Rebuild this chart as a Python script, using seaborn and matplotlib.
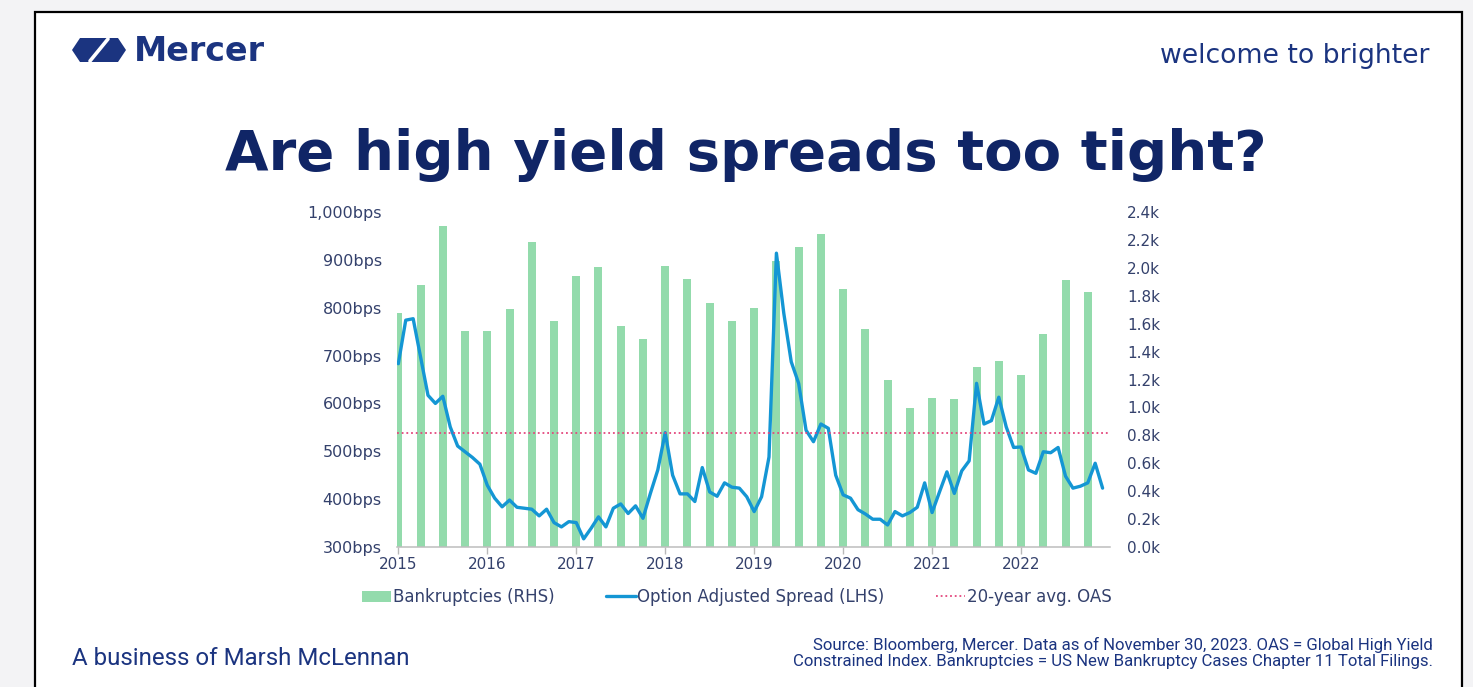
import numpy as np
import pandas as pd
import matplotlib
matplotlib.use("Agg")
import matplotlib.pyplot as plt
from matplotlib.patches import Rectangle, Polygon, Patch
from matplotlib.lines import Line2D
from matplotlib.ticker import FixedLocator, FuncFormatter
import seaborn as sns

# ---- data ----------------------------------------------------------------
years = [2015, 2016, 2017, 2018, 2019, 2020, 2021, 2022]

# Option adjusted spread (bps), monthly Jan 2015 - Dec 2022
oas_2015 = [683, 774, 777, 697, 617, 600, 615, 551, 511, 499, 487, 473]
oas_2016 = [429, 402, 384, 398, 383, 381, 379, 365, 379, 351, 342, 353]
oas_2017 = [351, 317, 339, 363, 342, 381, 390, 370, 386, 360, 412, 461]
oas_2018 = [539, 450, 411, 411, 395, 466, 415, 406, 434, 425, 423, 405]
oas_2019 = [374, 405, 488, 914, 788, 687, 642, 544, 520, 557, 548, 450]
oas_2020 = [409, 402, 378, 369, 358, 358, 346, 374, 365, 372, 383, 434]
oas_2021 = [372, 415, 457, 412, 459, 480, 642, 557, 564, 613, 551, 508]
oas_2022 = [509, 461, 454, 499, 497, 508, 448, 423, 427, 434, 475, 423]

# Chapter 11 bankruptcy filings, quarterly
bankruptcies = [1680, 1880, 2300, 1550, 1545, 1705, 2185, 1620,
                1940, 2005, 1580, 1490, 2010, 1920, 1750, 1620,
                1710, 2050, 2150, 2245, 1845, 1565, 1195, 995,
                1065, 1060, 1290, 1335, 1230, 1525, 1910, 1825]

avg_oas = 538  # 20-year average OAS (bps)

left_ticks = [300, 400, 500, 600, 700, 800, 900, 1000]
right_ticks = [0, 200, 400, 600, 800, 1000, 1200, 1400, 1600, 1800, 2000, 2200, 2400]

oas = oas_2015 + oas_2016 + oas_2017 + oas_2018 + oas_2019 + oas_2020 + oas_2021 + oas_2022
month_x = [y + m / 12 for y in years for m in range(12)]
quarter_x = [y + q / 4 for y in years for q in range(4)]

df_oas = pd.DataFrame({"t": month_x, "oas": oas})
df_bk = pd.DataFrame({"t": quarter_x, "bk": bankruptcies})

# ---- style ---------------------------------------------------------------
sns.set_theme(style="white")
plt.rcParams["font.family"] = ["DejaVu Sans"]

TICK = "#34416c"
GREEN = "#93dbac"
BLUE = "#1496d4"
PINK = "#e4477d"
BRAND = "#1b3480"
NARROW = ["Liberation Sans Narrow", "Roboto", "DejaVu Sans"]

W, H = 1473, 687
fig = plt.figure(figsize=(W / 100, H / 100), dpi=100)
fig.patch.set_facecolor("#f3f3f5")


def fx(x):
    return x / W


def fy(y):
    return 1 - y / H


# white slide with black frame
fig.add_artist(Rectangle((fx(35), fy(740)), fx(1462) - fx(35), fy(12) - fy(740),
                         transform=fig.transFigure, facecolor="white",
                         edgecolor="black", linewidth=1.6, zorder=0))

# ---- chart ---------------------------------------------------------------
ax = fig.add_axes([fx(397), fy(547), fx(1110) - fx(397), fy(212) - fy(547)])
ax2 = ax.twinx()

sns.barplot(data=df_bk, x="t", y="bk", ax=ax2, native_scale=True,
            color=GREEN, width=0.36, saturation=1, linewidth=0)
sns.lineplot(data=df_oas, x="t", y="oas", ax=ax, color=BLUE, linewidth=2.4)
ax.axhline(avg_oas, color=PINK, linestyle=(0, (1, 1.6)), linewidth=1.3)

ax.set_zorder(ax2.get_zorder() + 1)
ax.patch.set_visible(False)

ax.set_xlim(2014.985, 2023.0)
ax.set_ylim(300, 1000)
ax2.set_ylim(0, 2400)

ax.set_xlabel("")
ax.set_ylabel("")
ax2.set_xlabel("")
ax2.set_ylabel("")

ax.xaxis.set_major_locator(FixedLocator(years))
ax.xaxis.set_major_formatter(FuncFormatter(lambda v, p: f"{int(round(v))}"))
ax.yaxis.set_major_locator(FixedLocator(left_ticks))
ax.yaxis.set_major_formatter(FuncFormatter(lambda v, p: f"{int(v):,}bps"))
ax2.yaxis.set_major_locator(FixedLocator(right_ticks))
ax2.yaxis.set_major_formatter(FuncFormatter(lambda v, p: f"{v / 1000:.1f}k"))

ax.tick_params(axis="y", length=0, pad=11, labelsize=11.5, labelcolor=TICK)
ax2.tick_params(axis="y", length=0, pad=12.5, labelsize=11, labelcolor=TICK)
ax.tick_params(axis="x", length=5, width=1, color="#b9b9b9", pad=2,
               labelsize=11, labelcolor=TICK, bottom=True)
ax2.tick_params(axis="x", length=0)

for a in (ax, ax2):
    for s in ("top", "left", "right"):
        a.spines[s].set_visible(False)
    a.spines["bottom"].set_color("#bdbdbd")
    a.spines["bottom"].set_linewidth(1.1)
    a.grid(False)
ax2.spines["bottom"].set_visible(False)

# legend
handles = [
    Patch(facecolor=GREEN, edgecolor="none"),
    Line2D([0], [0], color=BLUE, linewidth=2.4),
    Line2D([0], [0], color=PINK, linewidth=1.3, linestyle=(0, (1, 1.6))),
]
labels = ["Bankruptcies (RHS)", "Option Adjusted Spread (LHS)", "20-year avg. OAS"]
fig.legend(handles, labels, loc="center", bbox_to_anchor=(fx(737), fy(597)),
           ncol=3, frameon=False, fontsize=12, labelcolor=TICK,
           handlelength=1.75, handleheight=0.65, handletextpad=0.1,
           columnspacing=3.1)

# ---- header / footer -----------------------------------------------------
fig.text(fx(746), fy(170), "Are high yield spreads too tight?",
         ha="center", va="baseline", fontsize=40.5, fontweight="bold",
         color="#102566")

# Mercer mark
fig.add_artist(Polygon([(fx(72), fy(50)), (fx(80), fy(38)), (fx(118), fy(38)),
                        (fx(126), fy(50)), (fx(118), fy(62)), (fx(80), fy(62))],
                       closed=True, transform=fig.transFigure,
                       facecolor=BRAND, edgecolor="none", zorder=2))
fig.add_artist(Line2D([fx(90), fx(108)], [fy(61), fy(39)], transform=fig.transFigure,
                      color="white", linewidth=2.6, zorder=3))
fig.text(fx(134), fy(61), "Mercer", ha="left", va="baseline", fontsize=24,
         fontweight="bold", color=BRAND)

fig.text(fx(1429), fy(63), "welcome to brighter", ha="right", va="baseline",
         fontsize=19.2, color=BRAND)

fig.text(fx(72), fy(665), "A business of Marsh McLennan", ha="left", va="baseline",
         fontsize=17.3, color=BRAND, family=NARROW)

fig.text(fx(1433), fy(650),
         "Source: Bloomberg, Mercer. Data as of November 30, 2023. OAS = Global High Yield",
         ha="right", va="baseline", fontsize=12.1, color=BRAND, family=NARROW)
fig.text(fx(1433), fy(666),
         "Constrained Index. Bankruptcies = US New Bankruptcy Cases Chapter 11 Total Filings.",
         ha="right", va="baseline", fontsize=12.1, color=BRAND, family=NARROW)

fig.savefig("out.png", dpi=100, facecolor=fig.get_facecolor())
